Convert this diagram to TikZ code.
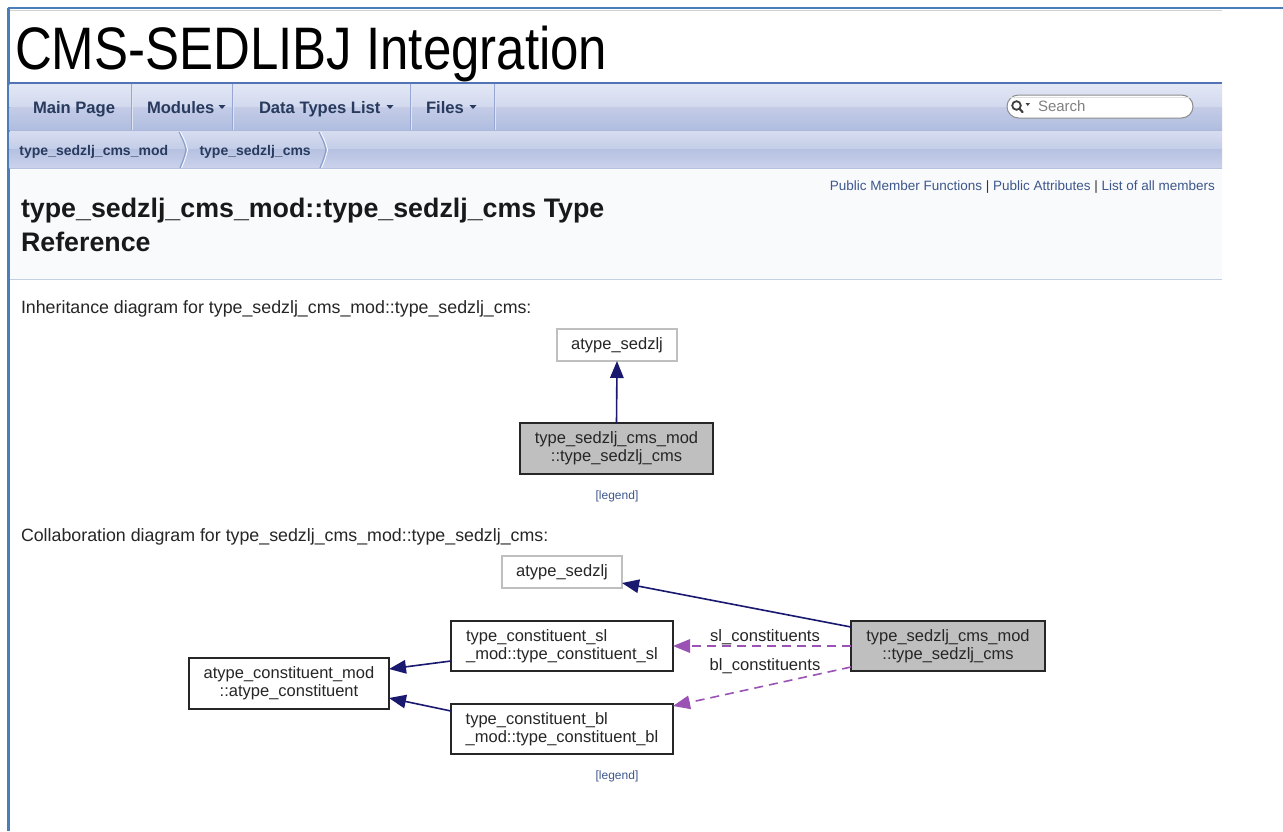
\documentclass[tikz,border=0pt]{standalone}
\usepackage{fontspec}
\setmainfont{Liberation Sans}
\usetikzlibrary{arrows.meta,calc}

\definecolor{navyline}{HTML}{191970}
\definecolor{orchidline}{RGB}{154,82,180}
\definecolor{navtext}{HTML}{283A5D}
\definecolor{linkblue}{HTML}{3D578C}
\definecolor{frameblue}{HTML}{4A7EBB}
\definecolor{tabline}{HTML}{5373B4}
\definecolor{tabsep}{HTML}{97A6D2}
\definecolor{headbg}{HTML}{F9FAFC}
\definecolor{headrule}{HTML}{C4CFE5}
\definecolor{boxgray}{HTML}{BFBFBF}

\begin{document}
\begin{tikzpicture}[x=1pt,y=-1pt,
  every node/.style={inner sep=0pt, outer sep=0pt},
  navitem/.style={anchor=base west, text=navtext, font=\bfseries\fontsize{16.6}{18}\selectfont},
  crumb/.style={anchor=base west, text=navtext, font=\bfseries\fontsize{14}{16}\selectfont},
  plain/.style={anchor=base west, text=black!85, font=\fontsize{17.8}{20}\selectfont},
  cls/.style={draw=black!85, line width=1.2pt, fill=white, align=center,
    text=black!85, font=\fontsize{16.5}{18}\selectfont},
  leftcls/.style={cls, align=left},
  ext/.style={cls, draw=boxgray},
  self/.style={cls, fill=boxgray},
  legendtxt/.style={text=linkblue, font=\fontsize{12}{14}\selectfont},
  elabel/.style={anchor=base, text=black!85, font=\fontsize{16.6}{18}\selectfont},
  inh/.style={navyline, line width=1.6pt, -{Triangle[length=17pt,width=13.5pt]}},
  usage/.style={orchidline, line width=1.6pt, dash pattern=on 9pt off 6pt,
    -{Triangle[length=17pt,width=13.5pt]}},
  tabdrop/.style={fill=navtext},
]
\useasboundingbox (0,0) rectangle (1283,831);
\fill[white] (0,0) rectangle (1283,831);

% ---------- page frame ----------
\draw[frameblue, line width=1.6pt] (8,8) -- (1283,8);
\draw[black!18, line width=1.6pt] (9,10.5) -- (1222,10.5);
\draw[frameblue, line width=2.6pt] (8.3,8) -- (8.3,831);

% ---------- project title ----------
\node[anchor=base west, xscale=0.85, text=black,
      font=\fontsize{60}{60}\selectfont] (title) at (15,69) {CMS-SEDLIBJ Integration};
\draw[tabline, line width=1.6pt] (9.6,83) -- (1222,83);

% ---------- navigation bar ----------
\shade[top color={rgb,255:red,226;green,231;blue,245}, bottom color={rgb,255:red,210;green,217;blue,238}]
  (9.6,84) rectangle (1222,107);
\shade[top color={rgb,255:red,196;green,204;blue,231}, bottom color={rgb,255:red,176;green,189;blue,224}]
  (9.6,107) rectangle (1222,130);
\foreach \sx in {131,232,410,494}{
  \draw[tabsep, line width=1pt] (\sx,84) -- (\sx,130);
  \draw[white!70!tabsep, line width=0.8pt] (\sx+1.2,84) -- (\sx+1.2,130);
}
\node[navitem] (main) at (33,113) {Main Page};
\node[navitem] (mods) at (147,113) {Modules};
\node[navitem] (dtl) at (259,113) {Data Types List};
\node[navitem] (files) at (426,113) {Files};
\foreach \ax in {222,390,473}{
  \fill[tabdrop] (\ax-3.5,105) -- (\ax+3.5,105) -- (\ax,109) -- cycle;
}

% search field
\draw[rounded corners=11.5pt, fill=white, draw=black!45, line width=1pt]
  (1007,95) rectangle (1193,118);
\draw[black!12, line width=1.2pt, rounded corners=10pt] (1010,97.5) -- (1190,97.5);
\draw[black!75, line width=1.8pt] (1016.5,105.5) circle (4.3);
\draw[black!75, line width=2.2pt, line cap=round] (1019.5,108.8) -- (1022.5,112);
\fill[black!75] (1025.5,103) -- (1030,103) -- (1027.75,106) -- cycle;
\node[anchor=base west, text=black!50, font=\fontsize{15}{17}\selectfont] (search) at (1038,111.5) {Search};

% ---------- breadcrumb bar ----------
\shade[top color={rgb,255:red,215;green,221;blue,240}, bottom color={rgb,255:red,196;green,205;blue,232}]
  (9.6,131) rectangle (1222,149);
\shade[top color={rgb,255:red,182;green,193;blue,226}, bottom color={rgb,255:red,202;green,210;blue,235}]
  (9.6,149) rectangle (1222,168);
\draw[tabsep!80, line width=1pt] (9.6,130.5) -- (1222,130.5);
\draw[tabsep!70, line width=1pt] (9.6,168.5) -- (1222,168.5);
\node[crumb] (bc1) at (19.5,155) {type\_sedzlj\_cms\_mod};
\node[crumb] (bc2) at (199.5,155) {type\_sedzlj\_cms};
\foreach \cx in {179,319}{
  \draw[tabline!70, line width=1.1pt] (\cx,132) .. controls (\cx+5,142) .. (\cx+7,150)
     .. controls (\cx+5,158) .. (\cx+1,168);
  \draw[white!60, line width=0.7pt] (\cx+1.6,132) .. controls (\cx+6.6,142) .. (\cx+8.6,150)
     .. controls (\cx+6.6,158) .. (\cx+2.6,168);
}

% ---------- header ----------
\fill[headbg] (9.6,169.5) rectangle (1222,279);
\draw[headrule, line width=1.5pt] (9.6,279.5) -- (1222,279.5);
\node[anchor=base east, font=\fontsize{13.5}{15}\selectfont] (links) at (1215,190)
  {\textcolor{linkblue}{Public Member Functions} \textcolor{black!80}{|}
   \textcolor{linkblue}{Public Attributes} \textcolor{black!80}{|}
   \textcolor{linkblue}{List of all members}};
\node[anchor=base west, text=black!90, font=\bfseries\fontsize{26.8}{30}\selectfont] (hd1) at (21,217)
  {type\_sedzlj\_cms\_mod::type\_sedzlj\_cms Type};
\node[anchor=base west, text=black!90, font=\bfseries\fontsize{26.8}{30}\selectfont] (hd2) at (21,251)
  {Reference};

% ---------- inheritance diagram ----------
\node[plain] (inhcap) at (21,313) {Inheritance diagram for type\_sedzlj\_cms\_mod::type\_sedzlj\_cms:};
\node[ext, minimum width=120pt, minimum height=32pt] (ia) at (617,345) {atype\_sedzlj};
\node[self, minimum width=193pt, minimum height=51pt] (ib) at (616.5,448.5)
  {type\_sedzlj\_cms\_mod\\::type\_sedzlj\_cms};
\draw[inh] (ib.north) -- (ia.south);
\node[legendtxt] (leg1) at (617,496) {[legend]};

% ---------- collaboration diagram ----------
\node[plain] (colcap) at (21,541) {Collaboration diagram for type\_sedzlj\_cms\_mod::type\_sedzlj\_cms:};
\node[ext, minimum width=120pt, minimum height=32pt] (ca) at (562,572) {atype\_sedzlj};
\node[leftcls, minimum width=222pt, minimum height=50pt] (sl) at (562,646)
  {type\_constituent\_sl\\\_mod::type\_constituent\_sl};
\node[cls, minimum width=200pt, minimum height=51pt] (base) at (289,683.5)
  {atype\_constituent\_mod\\::atype\_constituent};
\node[leftcls, minimum width=222pt, minimum height=50pt] (bl) at (562,729)
  {type\_constituent\_bl\\\_mod::type\_constituent\_bl};
\node[self, minimum width=194pt, minimum height=50pt] (cs) at (948,646)
  {type\_sedzlj\_cms\_mod\\::type\_sedzlj\_cms};

\draw[inh] ($(cs.north west)+(0,6)$) -- ($(ca.east)+(0,11)$);
\draw[inh] ($(sl.west)+(0,15)$) -- ($(base.east)+(0,-14.5)$);
\draw[inh] ($(bl.west)+(0,-18)$) -- ($(base.east)+(0,14.5)$);
\draw[usage] (cs.west) -- (sl.east);
\draw[usage] ($(cs.west)+(0,21)$) -- ($(bl.north east)+(0,2)$);
\node[elabel] (lsl) at (765,641) {sl\_constituents};
\node[elabel] (lbl) at (765,670) {bl\_constituents};
\node[legendtxt] (leg2) at (617,776) {[legend]};
\end{tikzpicture}
\end{document}
